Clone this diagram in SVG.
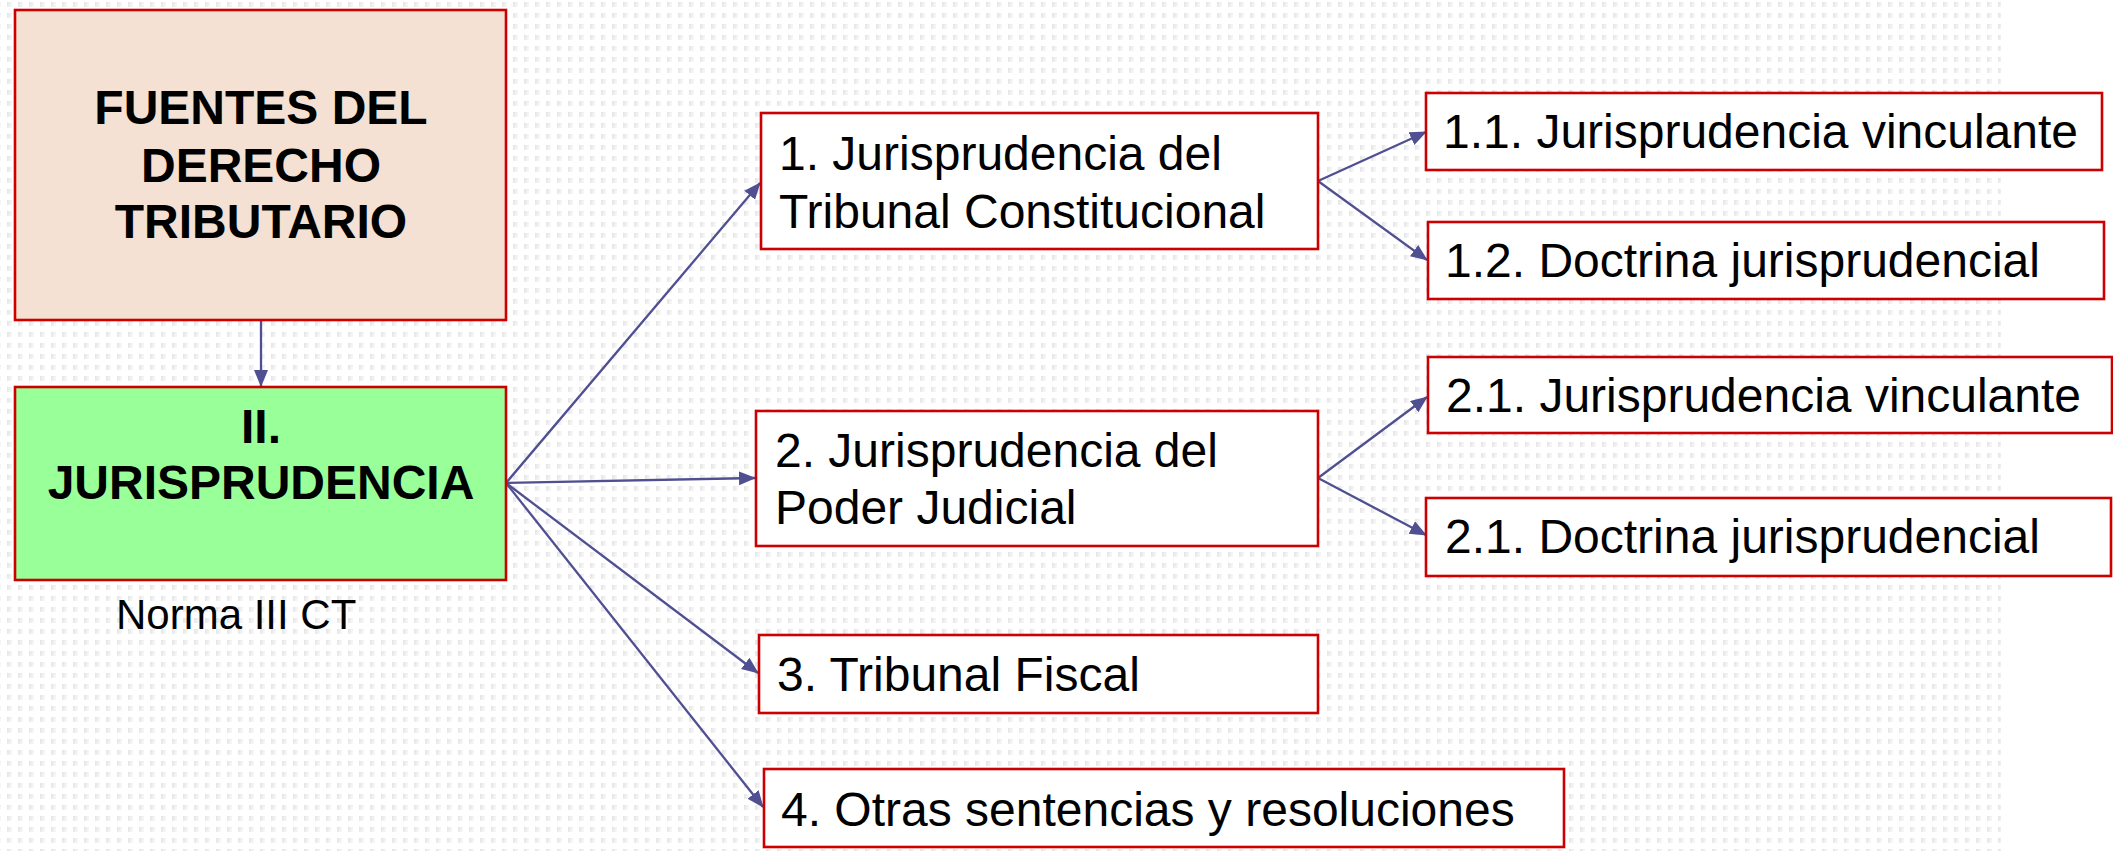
<svg xmlns="http://www.w3.org/2000/svg" width="2113" height="851" viewBox="0 0 2113 851">
<defs>
<linearGradient id="dg" x1="0" y1="0" x2="1" y2="0.3">
<stop offset="0" stop-color="#e2e2e2"/>
<stop offset="1" stop-color="#f7f7f7"/>
</linearGradient>
<pattern id="dots" x="7" y="2" width="11" height="11" patternUnits="userSpaceOnUse">
<rect x="0" y="0" width="5" height="5" fill="url(#dg)"/>
</pattern>
<marker id="ah" markerUnits="userSpaceOnUse" markerWidth="18" markerHeight="16" refX="16" refY="7" orient="auto">
<path d="M0,0 L17,7 L0,14 z" fill="#4f4f92"/>
</marker>
<style>
.box{stroke:#cc0000;stroke-width:2.6;}
.w{fill:#ffffff;}
.t{font-family:"Liberation Sans",Arial,sans-serif;font-size:48px;fill:#000;}
.b{font-weight:bold;text-anchor:middle;}
.c{stroke:#4f4f92;stroke-width:2.3;fill:none;marker-end:url(#ah);}
</style>
</defs>
<rect x="0" y="0" width="2113" height="851" fill="#ffffff"/>
<rect x="0" y="0" width="2001" height="851" fill="url(#dots)"/>

<g id="connectors">
<line class="c" x1="261" y1="321" x2="261" y2="386"/>
<line class="c" x1="506" y1="483" x2="760" y2="183"/>
<line class="c" x1="506" y1="483" x2="755" y2="478"/>
<line class="c" x1="506" y1="483" x2="758" y2="673"/>
<line class="c" x1="506" y1="483" x2="763" y2="807"/>
<line class="c" x1="1318" y1="181" x2="1426" y2="132"/>
<line class="c" x1="1318" y1="181" x2="1427" y2="260"/>
<line class="c" x1="1318" y1="478" x2="1427" y2="397"/>
<line class="c" x1="1318" y1="478" x2="1426" y2="535"/>
</g>

<g id="fuentes">
<rect class="box" x="15" y="10" width="491" height="310" fill="#f5e0d4"/>
<text class="t b" x="261" y="124">FUENTES DEL</text>
<text class="t b" x="261" y="182">DERECHO</text>
<text class="t b" x="261" y="238">TRIBUTARIO</text>
</g>

<g id="jurisprudencia">
<rect class="box" x="15" y="387" width="491" height="193" fill="#99ff99"/>
<text class="t b" x="261" y="443">II.</text>
<text class="t b" x="261" y="499">JURISPRUDENCIA</text>
</g>

<g id="norma">
<text class="t" x="116" y="629" style="font-size:42px">Norma III CT</text>
</g>

<g id="n1">
<rect class="box w" x="761" y="113" width="557" height="136"/>
<text class="t" x="779" y="170">1. Jurisprudencia del</text>
<text class="t" x="779" y="228">Tribunal Constitucional</text>
</g>

<g id="n2">
<rect class="box w" x="756" y="411" width="562" height="135"/>
<text class="t" x="775" y="467">2. Jurisprudencia del</text>
<text class="t" x="775" y="524">Poder Judicial</text>
</g>

<g id="n3">
<rect class="box w" x="759" y="635" width="559" height="78"/>
<text class="t" x="777" y="691">3. Tribunal Fiscal</text>
</g>

<g id="n4">
<rect class="box w" x="764" y="769" width="800" height="78"/>
<text class="t" x="781" y="826">4. Otras sentencias y resoluciones</text>
</g>

<g id="n11">
<rect class="box w" x="1426" y="93" width="676" height="77"/>
<text class="t" x="1443" y="148">1.1. Jurisprudencia vinculante</text>
</g>

<g id="n12">
<rect class="box w" x="1428" y="222" width="676" height="77"/>
<text class="t" x="1445" y="277">1.2. Doctrina jurisprudencial</text>
</g>

<g id="n21">
<rect class="box w" x="1428" y="357" width="684" height="76"/>
<text class="t" x="1446" y="412">2.1. Jurisprudencia vinculante</text>
</g>

<g id="n21d">
<rect class="box w" x="1426" y="498" width="685" height="78"/>
<text class="t" x="1445" y="553">2.1. Doctrina jurisprudencial</text>
</g>
</svg>
